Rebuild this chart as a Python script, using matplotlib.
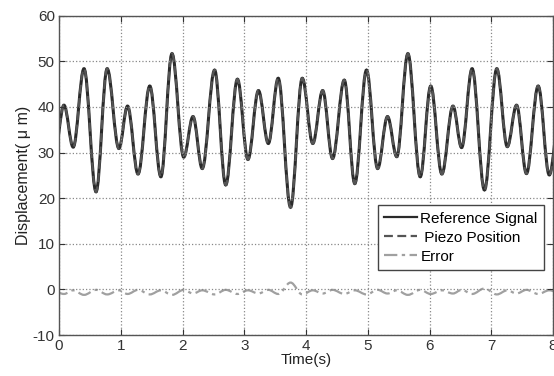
import numpy as np
import matplotlib
matplotlib.use("Agg")
import matplotlib.pyplot as plt
from matplotlib.path import Path
from matplotlib.patches import PathPatch
from matplotlib.lines import Line2D

plt.rcParams['font.family'] = ['Liberation Sans', 'DejaVu Sans']
plt.rcParams['axes.unicode_minus'] = False

# extrema of the reference signal (time in s, displacement in um)
ref_t = [-0.07, 0.08, 0.23, 0.405, 0.60, 0.78, 0.97, 1.11, 1.28, 1.47, 1.65, 1.83,
         2.02, 2.17, 2.32, 2.52, 2.70, 2.89, 3.06, 3.23, 3.39, 3.55, 3.75, 3.94,
         4.11, 4.27, 4.43, 4.62, 4.79, 4.98, 5.16, 5.32, 5.47, 5.65, 5.85, 6.02,
         6.20, 6.38, 6.52, 6.69, 6.89, 7.09, 7.26, 7.41, 7.57, 7.76, 7.94, 8.12]
ref_v = [30.0, 40.4, 31.2, 48.4, 21.4, 48.4, 30.9, 40.2, 25.3, 44.6, 24.7, 51.7,
         29.0, 37.9, 26.5, 48.1, 22.9, 46.1, 28.5, 43.6, 32.0, 46.3, 18.0, 46.3,
         32.0, 43.6, 28.7, 45.9, 23.2, 48.1, 26.5, 37.9, 29.1, 51.7, 24.7, 44.6,
         25.3, 40.2, 31.1, 48.4, 21.8, 48.4, 31.3, 40.4, 25.4, 44.6, 25.1, 40.0]
# piezo position follows the reference so closely it cannot be told apart
piezo_v = list(ref_v)
# tracking error at the same instants
err_v = [-0.5, -1.0, -0.2, -1.2, -0.1, -1.1, -0.2, -1.0, -0.1, -1.1, -0.2, -1.2,
         -0.1, -0.9, -0.2, -1.1, -0.1, -1.0, -0.2, -0.9, -0.1, -1.0, 1.5, -1.1,
         -0.2, -0.9, -0.1, -1.0, -0.2, -1.1, -0.1, -0.9, -0.2, -1.2, -0.1, -1.0,
         -0.2, -0.9, -0.1, -1.0, 0.2, -1.1, -0.2, -0.9, -0.1, -1.0, -0.2, -0.8]


def smooth_path(t, v, k=0.364):
    # cubic bezier segments with flat tangents at each extremum
    verts = [(t[0], v[0])]
    codes = [Path.MOVETO]
    for i in range(len(t) - 1):
        dt = t[i + 1] - t[i]
        verts += [(t[i] + k * dt, v[i]), (t[i + 1] - k * dt, v[i + 1]), (t[i + 1], v[i + 1])]
        codes += [Path.CURVE4] * 3
    return Path(verts, codes)


fig = plt.figure(figsize=(5.54, 3.76), dpi=100)
ax = fig.add_axes([0.1065, 0.109, 0.8917, 0.849])

ax.add_patch(PathPatch(smooth_path(ref_t, ref_v), fill=False, ec='#2a2a2a', lw=2.2))
ax.add_patch(PathPatch(smooth_path(ref_t, piezo_v), fill=False, ec='#555555', lw=1.6,
                       ls=(0, (4, 2))))
ax.add_patch(PathPatch(smooth_path(ref_t, err_v), fill=False, ec='#a0a0a0', lw=1.6,
                       ls=(0, (6, 2, 1.5, 2))))

ax.set_xlim(0, 8)
ax.set_ylim(-10, 60)
ax.set_xticks(range(0, 9))
ax.set_yticks(range(-10, 61, 10))
ax.grid(True, ls=':', color='#888888', lw=0.9)
ax.tick_params(direction='in', top=True, right=True, length=4, labelsize=11,
               colors='#333333', pad=3)
for s in ax.spines.values():
    s.set_color('#555555')
    s.set_linewidth(1.0)

ax.set_xlabel('Time(s)', fontsize=11, labelpad=0, color='#222222')
ax.set_ylabel('Displacement( \u03bc m)', fontsize=11.5, labelpad=1, color='#222222')

handles = [Line2D([], [], color='#2a2a2a', lw=1.6),
           Line2D([], [], color='#555555', lw=1.6, ls=(0, (4, 2))),
           Line2D([], [], color='#a0a0a0', lw=1.6, ls=(0, (6, 2, 1.5, 2)))]
ax.legend(handles, ['Reference Signal', ' Piezo Position', 'Error'],
          loc='upper left', bbox_to_anchor=(0.645, 0.406), fontsize=11,
          handlelength=2.2, handletextpad=0.2, borderpad=0.4, labelspacing=0.33,
          borderaxespad=0, frameon=True, fancybox=False, edgecolor='#444444',
          framealpha=1)

fig.savefig('out.png', dpi=100)
